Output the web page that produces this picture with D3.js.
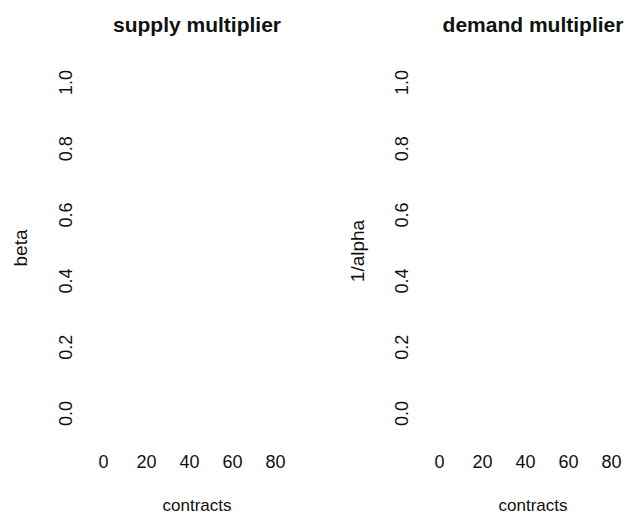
<!DOCTYPE html>
<html>
<head>
<meta charset="utf-8">
<script src="https://cdn.jsdelivr.net/npm/d3@7"></script>
<style>
  body { margin: 0; background: #fff; }
  text { font-family: "Liberation Sans", Arial, sans-serif; fill: #111; }
</style>
</head>
<body>
<div id="chart"></div>
<script>
// panel texts
const panelTitles = ["supply multiplier", "demand multiplier"];
const yLabels = ["beta", "1/alpha"];
const xLabel = "contracts";

// tick values (no marks in the reference, the panels are empty)
const xTicks = [0, 20, 40, 60, 80];
const yTicks = [0, 0.2, 0.4, 0.6, 0.8, 1.0];

const width = 626,
  height = 516;
const panelOffset = 336; // second panel is shifted right

const svg = d3.select("#chart").append("svg").attr("width", width).attr("height", height);

// scales fitted to where the tick labels sit
const x = d3.scaleLinear().domain([0, 80]).range([103, 275]);
const y = d3.scaleLinear().domain([0, 1]).range([413, 82]);
const centerX = 197;

panelTitles.forEach((title, i) => {
  const g = svg.append("g").attr("transform", `translate(${i * panelOffset},0)`);

  // title
  g.append("text")
    .attr("x", centerX)
    .attr("y", 32)
    .attr("text-anchor", "middle")
    .style("font-size", "21px")
    .style("font-weight", "bold")
    .text(title);

  // x axis, labels only
  const xAxis = g.append("g").call(d3.axisBottom(x).tickValues(xTicks).tickSize(0).tickPadding(0));
  xAxis.select(".domain").remove();
  xAxis.selectAll("text")
    .attr("y", 468)
    .attr("dy", null)
    .style("font-size", "18px")
    .style("fill", "#111");

  // y axis, labels rotated like R's default las=0
  const yAxis = g.append("g")
    .attr("transform", "translate(72,0)")
    .call(d3.axisLeft(y).tickValues(yTicks).tickFormat(d3.format(".1f")).tickSize(0).tickPadding(0));
  yAxis.select(".domain").remove();
  yAxis.selectAll("text")
    .attr("x", 0)
    .attr("dy", null)
    .attr("text-anchor", "middle")
    .attr("transform", "rotate(-90)")
    .style("font-size", "18px")
    .style("fill", "#111");

  // axis titles
  g.append("text")
    .attr("x", centerX)
    .attr("y", 511)
    .attr("text-anchor", "middle")
    .style("font-size", "17px")
    .text(xLabel);

  const ylx = i === 0 ? 27 : 364 - panelOffset;
  const yly = i === 0 ? 248 : 251;
  g.append("text")
    .attr("transform", `translate(${ylx},${yly}) rotate(-90)`)
    .attr("text-anchor", "middle")
    .style("font-size", "19px")
    .text(yLabels[i]);
});
</script>
</body>
</html>
